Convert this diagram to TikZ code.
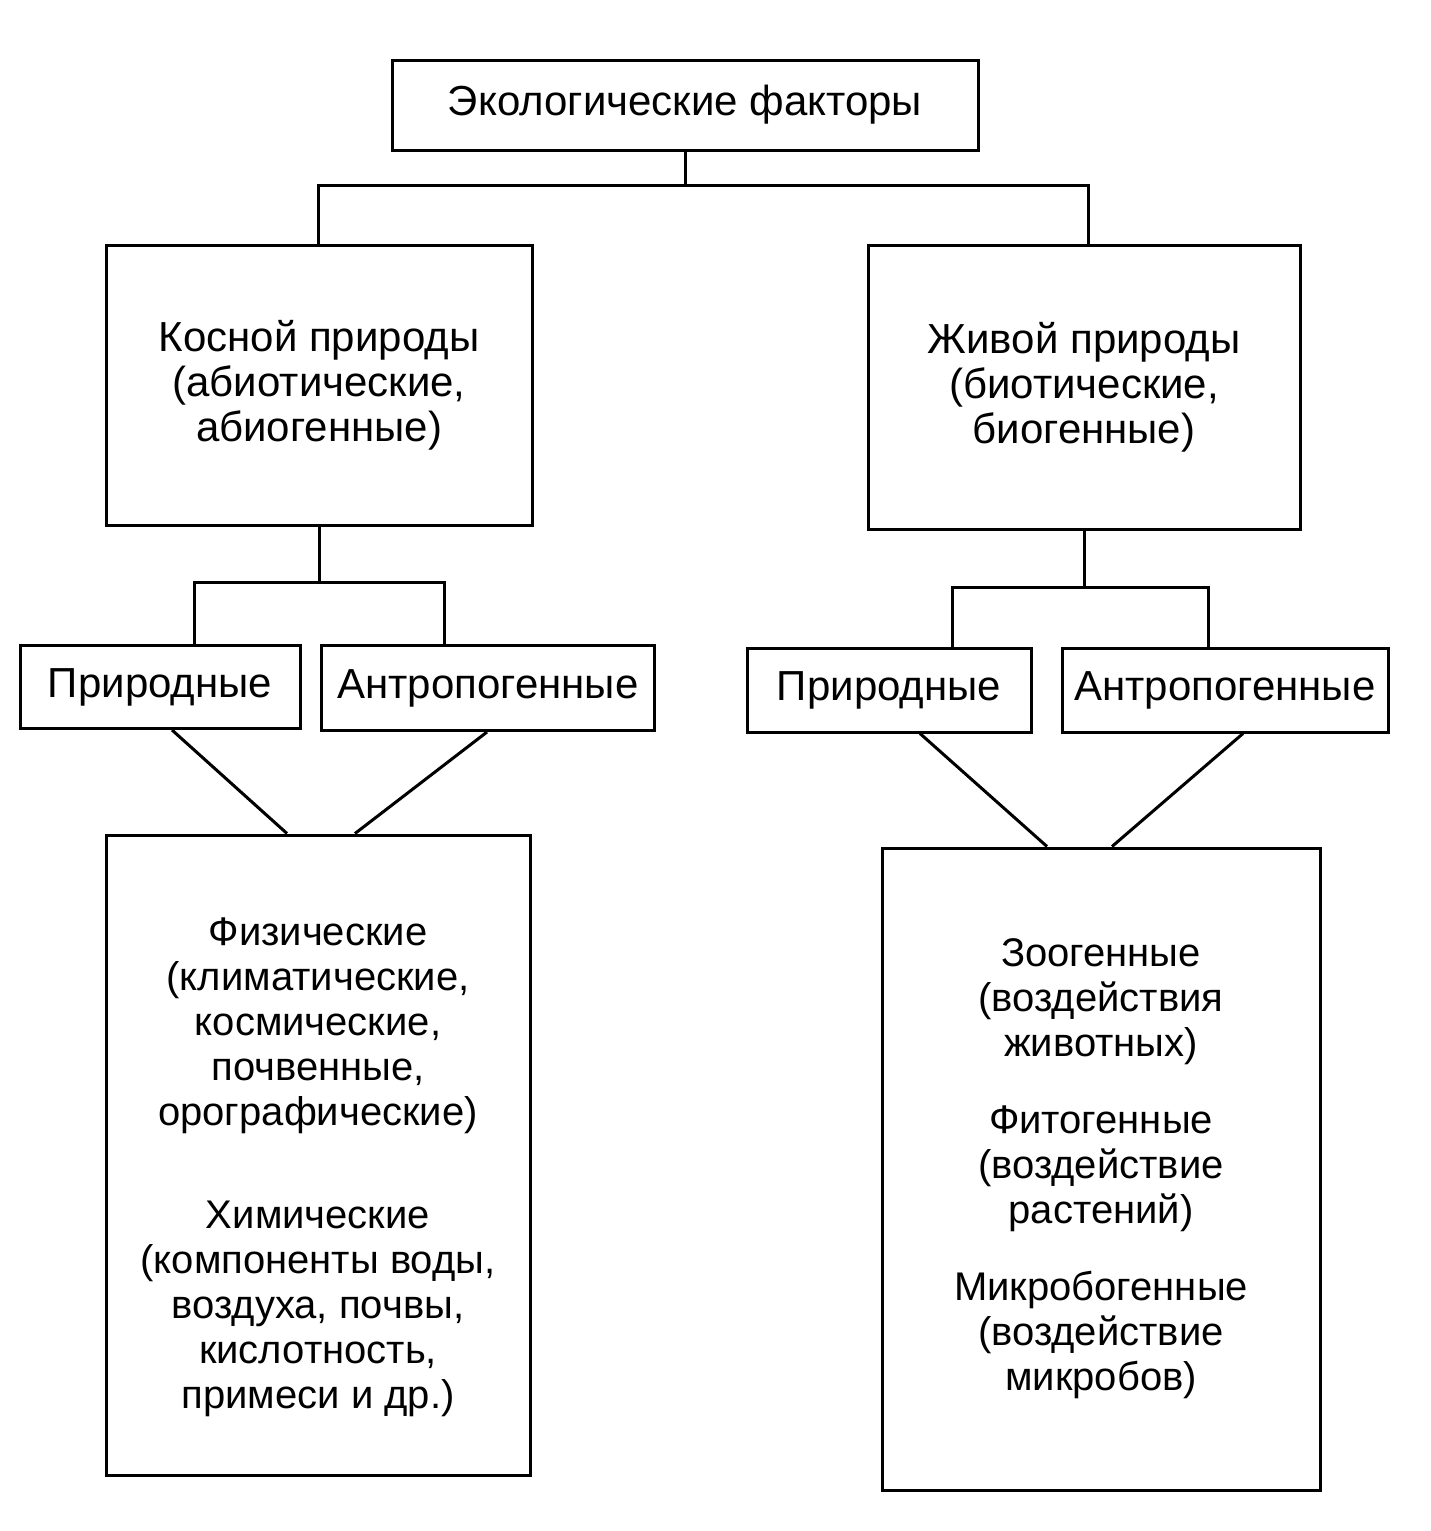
\documentclass[tikz,border=0pt]{standalone}
\usepackage{fontspec}
\setmainfont{Liberation Sans}
\usetikzlibrary{positioning}

\tikzset{
    factor/.style={rectangle, draw, line width=3pt, align=center, inner sep=0pt,
        font=\fontsize{42}{45}\selectfont},
    list/.style={factor, font=\fontsize{40}{45}\selectfont},
    link/.style={-, line width=3pt}
}

\begin{document}
\begin{tikzpicture}[x=1pt, y=-1pt]
        \useasboundingbox (0, 0) rectangle (1431, 1531);
        \node [factor, minimum width=586, minimum height=90] (eco) at (685, 105) {Экологические факторы};
        \node [factor, minimum width=426, minimum height=280] (kosn) at (319, 385) {Косной природы\\(абиотические,\\абиогенные)};
        \node [factor, minimum width=432, minimum height=284] (zhiv) at (1084, 387) {Живой природы\\(биотические,\\биогенные)};
        \node [factor, minimum width=280, minimum height=83] (prirL) at (160, 687) {Природные};
        \node [factor, minimum width=333, minimum height=85] (antrL) at (488, 688) {Антропогенные};
        \node [factor, minimum width=284, minimum height=84] (prirR) at (889, 690) {Природные};
        \node [factor, minimum width=326, minimum height=84] (antrR) at (1225, 690) {Антропогенные};
        \node [list, minimum width=424, minimum height=640] (abio) at (318, 1155) {};
        \node [list, draw=none] at ([yshift=-12]abio.center) {Физические\\(климатические,\\космические,\\почвенные,\\орографические)\\[58pt]Химические\\(компоненты воды,\\воздуха, почвы,\\кислотность,\\примеси и др.)};
        \node [list, minimum width=438, minimum height=642] (bio) at (1101, 1169) {Зоогенные\\(воздействия\\животных)\\[32pt]Фитогенные\\(воздействие\\растений)\\[32pt]Микробогенные\\(воздействие\\микробов)};
        % tree links
        \coordinate (eco-j) at (eco.south |- 0, 185);
        \draw [link] (eco.south) -- (eco-j);
        \draw [link] (kosn.north -| 318, 0) |- (eco-j) -| (zhiv.north -| 1088, 0);
        \coordinate (kosn-j) at (kosn.south |- 0, 582);
        \draw [link] (kosn.south) -- (kosn-j);
        \draw [link] (prirL.north -| 194, 0) |- (kosn-j) -| (antrL.north -| 444, 0);
        \coordinate (zhiv-j) at (zhiv.south |- 0, 587);
        \draw [link] (zhiv.south) -- (zhiv-j);
        \draw [link] (prirR.north -| 952, 0) |- (zhiv-j) -| (antrR.north -| 1208, 0);
        % diagonal links
        \draw [link] (prirL.south -| 172, 0) -- (abio.north -| 287, 0);
        \draw [link] (antrL.south -| 487, 0) -- (abio.north -| 355, 0);
        \draw [link] (prirR.south -| 920, 0) -- (bio.north -| 1047, 0);
        \draw [link] (antrR.south -| 1243, 0) -- (bio.north -| 1112, 0);
    \end{tikzpicture}
\end{document}
